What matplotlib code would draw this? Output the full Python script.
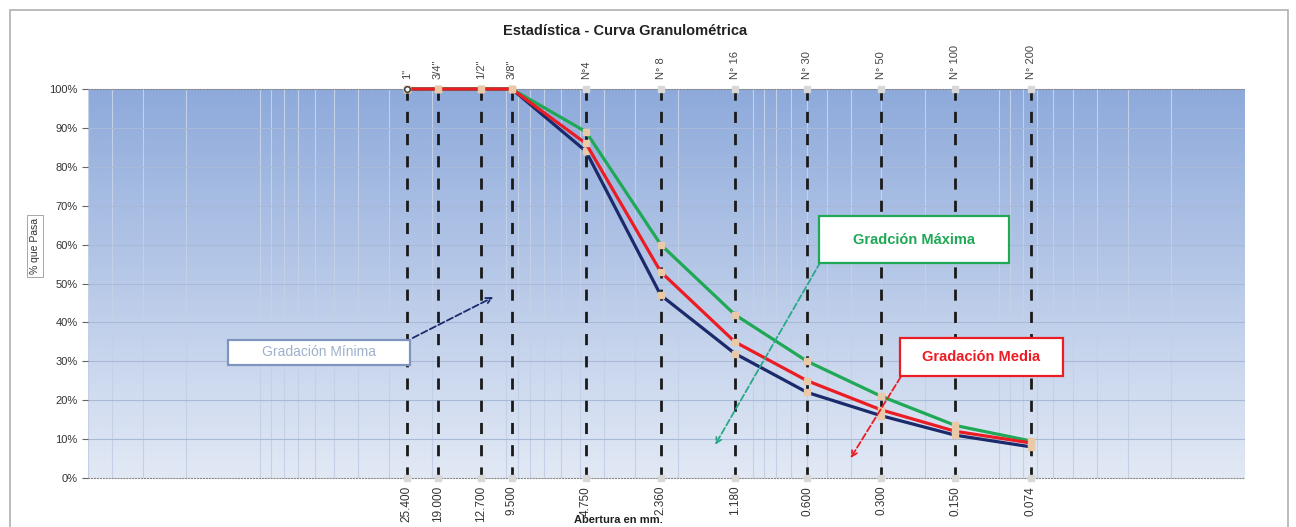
import numpy as np
import matplotlib.pyplot as plt
from matplotlib.patches import Rectangle
from matplotlib.colors import LinearSegmentedColormap

# datos de la curva granulometrica
tamices = ['1"', '3/4"', '1/2"', '3/8"', 'N°4', 'N° 8', 'N° 16', 'N° 30', 'N° 50', 'N° 100', 'N° 200']
aberturas = [25.4, 19.0, 12.7, 9.5, 4.75, 2.36, 1.18, 0.6, 0.3, 0.15, 0.074]
etiquetas_mm = ['25.400', '19.000', '12.700', '9.500', '4.750', '2.360', '1.180', '0.600', '0.300', '0.150', '0.074']
minima = [100, 100, 100, 100, 84, 47, 32, 22, 16, 11, 8]
media = [100, 100, 100, 100, 86, 53, 35, 25, 17.5, 12, 9]
maxima = [100, 100, 100, 100, 89, 60, 42, 30, 21, 13.5, 9.5]

plt.rcParams['font.family'] = ['Liberation Sans Narrow', 'Liberation Sans', 'DejaVu Sans']

W, H = 1296, 527
def fx(px):
    return px / W
def fy(py):
    return 1 - py / H

fig = plt.figure(figsize=(12.96, 5.27), dpi=100)
fig.patches.append(Rectangle((fx(10), -0.1), fx(1278), 1.1 - 10/H, transform=fig.transFigure,
                             fill=False, edgecolor='#b0b0b0', linewidth=1.2))
ax = fig.add_axes([fx(88), fy(478), fx(1245 - 88), (478 - 89)/H])

ax.set_xscale('log')
ax.set_xlim(500, 0.01)
ax.set_ylim(0, 100)

# fondo degradado
grad = np.linspace(0, 1, 256).reshape(-1, 1)
cmap = LinearSegmentedColormap.from_list('fondo', ['#e2e9f5', '#8eaadb'])
ax.imshow(grad, extent=[0, 1, 0, 1], transform=ax.transAxes, cmap=cmap,
          aspect='auto', origin='lower', zorder=0)

# grilla
for d in [0.01, 0.1, 1, 10, 100]:
    for m in range(1, 10):
        v = d * m
        if 0.01 <= v <= 500:
            ax.axvline(v, color='#c4d0e6', linewidth=0.8, zorder=1)
for yv in range(10, 100, 10):
    ax.axhline(yv, color='#a9b9d8', linewidth=0.8, zorder=1)

# lineas de tamices
for a in aberturas:
    ax.plot([a, a], [0, 100], color='#1a1a1a', linestyle=(0, (4, 4)), linewidth=2, zorder=3)
ax.plot(aberturas, [100]*len(aberturas), 's', color='#d8d8d8', markersize=4, zorder=4, clip_on=False)
ax.plot(aberturas, [0]*len(aberturas), 's', color='#d8d8d8', markersize=4, zorder=4, clip_on=False)

# curvas
estilo = dict(linewidth=2.3, marker='s', markersize=4, markerfacecolor='#e9c9a8',
              markeredgecolor='#e9c9a8', clip_on=False)
ax.plot(aberturas, minima, color='#1b2a6b', zorder=5, **estilo)
ax.plot(aberturas, maxima, color='#1fa855', zorder=5, **estilo)
ax.plot(aberturas, media, color='#ec1c24', zorder=6, **estilo)
ax.plot([25.4], [100], 'o', markersize=4, markerfacecolor='white', markeredgecolor='#333333',
        zorder=7, clip_on=False)

# ejes
for s in ['left', 'right']:
    ax.spines[s].set_visible(False)
for s in ['top', 'bottom']:
    ax.spines[s].set_color('#888888')
    ax.spines[s].set_linestyle(':')
ax.set_xticks([])
ax.set_xticks([], minor=True)
ax.set_yticks(range(0, 101, 10))
ax.set_yticklabels([f'{v}%' for v in range(0, 101, 10)], fontsize=8, color='#333333')
ax.tick_params(axis='y', length=4, color='#666666')

# etiquetas de tamices y aberturas
for a, t, e in zip(aberturas, tamices, etiquetas_mm):
    ax.text(a, 102.5, t, rotation=90, ha='center', va='bottom', fontsize=8, color='#444444', clip_on=False)
    ax.text(a, -2.0, e, rotation=90, ha='center', va='top', fontsize=8.5, color='#333333', clip_on=False)

fig.text(fx(625), fy(31), 'Estadística - Curva Granulométrica', ha='center', va='center',
         fontsize=10.5, fontweight='bold', color='#222222')
fig.text(fx(618), fy(520), 'Abertura en mm.', ha='center', va='center',
         fontsize=8, fontweight='bold', color='#222222')
fig.text(fx(35), fy(246), '% que Pasa', rotation=90, ha='center', va='center', fontsize=7.5,
         color='#333333', bbox=dict(boxstyle='square,pad=0.3', facecolor='white', edgecolor='#999999', linewidth=0.6))

# flechas de las anotaciones
def flecha(x0, y0, x1, y1, color):
    ax.annotate('', xy=(x1, y1), xytext=(x0, y0), zorder=8,
                arrowprops=dict(arrowstyle='->', color=color, linestyle='--', linewidth=1.3,
                                shrinkA=0, shrinkB=0))

flecha(24.0, 36, 11.3, 46.5, '#1b2a6b')
flecha(0.53, 55.5, 1.42, 8.5, '#2aa88a')
flecha(0.25, 26, 0.40, 5.1, '#ec1c24')

# cuadros de texto
def cuadro(x0, y0, x1, y1, texto, color, borde, peso, size):
    fig.add_artist(Rectangle((fx(x0), fy(y1)), fx(x1 - x0), (y1 - y0)/H, transform=fig.transFigure,
                             facecolor='white', edgecolor=borde, linewidth=1.6, zorder=10))
    fig.text(fx((x0 + x1)/2), fy((y0 + y1)/2), texto, ha='center', va='center', color=color,
             fontweight=peso, fontsize=size, zorder=11, family=['Liberation Sans', 'DejaVu Sans'])

cuadro(228, 340, 410, 365, 'Gradación Mínima', '#9fb0cc', '#7f95c0', 'normal', 10)
cuadro(819, 216, 1009, 263, 'Gradción Máxima', '#1fa855', '#1fa855', 'bold', 10.5)
cuadro(900, 338, 1063, 376, 'Gradación Media', '#ec1c24', '#ec1c24', 'bold', 10.5)

fig.savefig('out.png', dpi=100)
